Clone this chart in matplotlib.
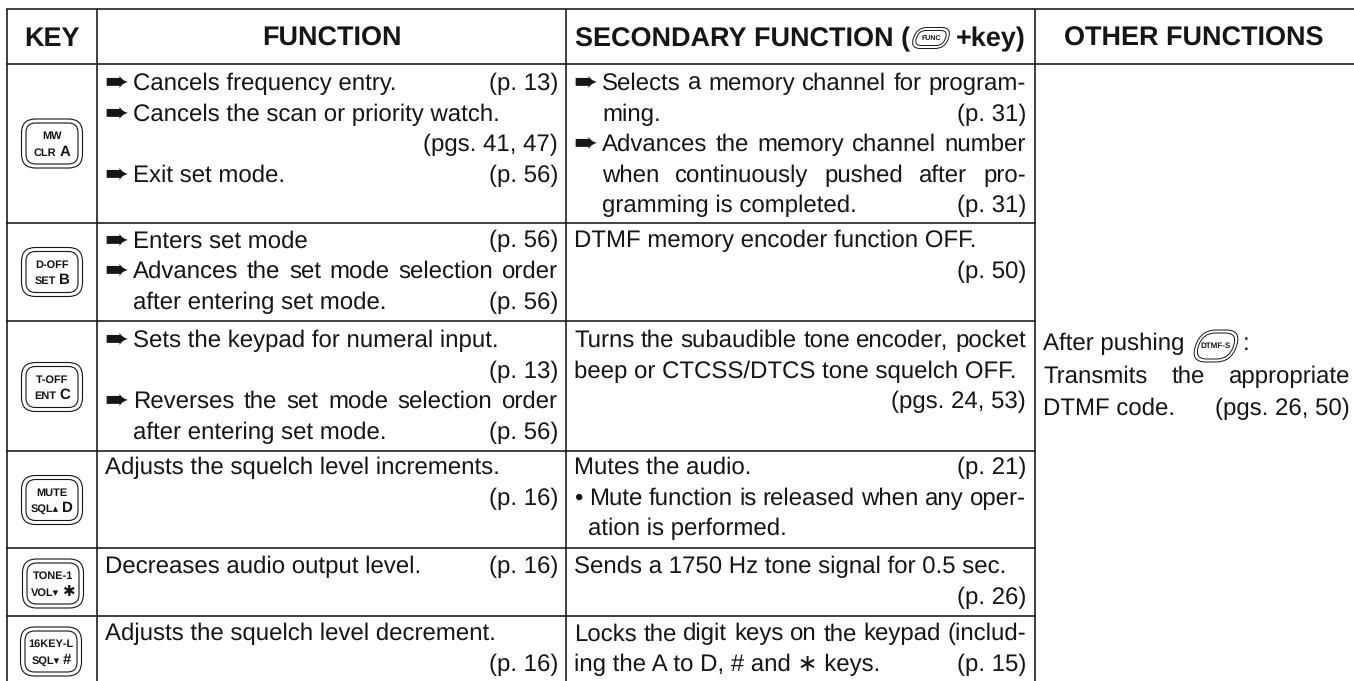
import matplotlib
matplotlib.use("Agg")
import matplotlib.pyplot as plt
from matplotlib.patches import FancyBboxPatch
from matplotlib.transforms import Affine2D

W, H = 1354, 681
plt.rcParams['font.family'] = ['Liberation Sans', 'DejaVu Sans']
plt.rcParams['text.hinting'] = 'no_hinting'
plt.rcParams['text.hinting_factor'] = 1

# table text. "> " = arrow bullet, "  " = hanging indent, "~" = short indent,
# "=" = justified line, "|" splits off the right aligned page reference
headers = ["KEY", "FUNCTION", "SECONDARY FUNCTION (", "OTHER FUNCTIONS"]
header_tail = "+key)"

key_top = ["MW", "D-OFF", "T-OFF", "MUTE", "TONE-1", "16KEY-L"]
key_bottom = ["CLR", "SET", "ENT", "SQL▴", "VOL▾", "SQL▾"]
key_letter = ["A", "B", "C", "D", "✱", "#"]

function_lines = [
    ["> Cancels frequency entry.|(p. 13)",
     "> Cancels the scan or priority watch.",
     "|(pgs. 41, 47)",
     "> Exit set mode.|(p. 56)"],
    ["> Enters set mode|(p. 56)",
     "=> Advances the set mode selection order",
     "  after entering set mode.|(p. 56)"],
    ["> Sets the keypad for numeral input.",
     "|(p. 13)",
     "=> Reverses the set mode selection order",
     "  after entering set mode.|(p. 56)"],
    ["Adjusts the squelch level increments.",
     "|(p. 16)"],
    ["Decreases audio output level.|(p. 16)"],
    ["Adjusts the squelch level decrement.",
     "|(p. 16)"],
]

secondary_lines = [
    ["=> Selects a memory channel for program-",
     "  ming.|(p. 31)",
     "=> Advances the memory channel number",
     "=  when continuously pushed after pro-",
     "  gramming is completed.|(p. 31)"],
    ["DTMF memory encoder function OFF.",
     "|(p. 50)"],
    ["=Turns the subaudible tone encoder, pocket",
     "beep or CTCSS/DTCS tone squelch OFF.",
     "|(pgs. 24, 53)"],
    ["Mutes the audio.|(p. 21)",
     "=• Mute function is released when any oper-",
     "~ation is performed."],
    ["Sends a 1750 Hz tone signal for 0.5 sec.",
     "|(p. 26)"],
    ["=Locks the digit keys on the keypad (includ-",
     "ing the A to D, # and ∗ keys.|(p. 15)"],
]

other_prefix = "After pushing"
other_icon = "DTMF-S"
other_lines = ["=Transmits the appropriate", "DTMF code.|(pgs. 26, 50)"]
func_icon = "FUNC"

# layout, in pixels of the reference
col_x = [7, 97, 566, 1034.5, 1354]
row_y = [9, 64, 223, 321, 451, 548, 616, 681]
first_base = [90, 247.5, 347, 474, 573.5, 640.5]
key_cx = [52, 52, 52, 52, 53, 51]
key_cy = [143.5, 272, 387, 500, 583.5, 651.5]
pitch = 30.6
body_fs = 17.3
head_fs = 19.2
ink = "#161616"

fig = plt.figure(figsize=(W / 100, H / 100), dpi=100)
ax = fig.add_axes([0, 0, 1, 1])
ax.set_xlim(0, W)
ax.set_ylim(H, 0)
ax.axis("off")

for x in col_x[:-1]:
    ax.plot([x, x], [row_y[0], H], color=ink, lw=1.15, solid_capstyle="butt")
for y in row_y[:2]:
    ax.plot([col_x[0], W], [y, y], color=ink, lw=1.15)
for y in row_y[2:-1]:
    ax.plot([col_x[0], col_x[3]], [y, y], color=ink, lw=1.15)

fig.canvas.draw()
rend = fig.canvas.get_renderer()


def text_w(s, fs=body_fs, **kw):
    t = ax.text(0, 0, s, fontsize=fs, **kw)
    w = t.get_window_extent(rend).width
    t.remove()
    return w


def put(x, y, s, ha="left"):
    ax.text(x, y, s, fontsize=body_fs, color=ink, ha=ha, va="baseline")


def put_words(x0, x1, y, s):
    words = s.split()
    total = sum(text_w(w) for w in words)
    gap = (x1 - x0 - total) / max(len(words) - 1, 1)
    x = x0
    for w in words:
        put(x, y, w)
        x += text_w(w) + gap


def put_line(x0, x1, y, line):
    justified = line.startswith("=")
    if justified:
        line = line[1:]
    body, _, page = line.partition("|")
    tx = x0
    if body.startswith("> "):
        ax.text(x0 - 1, y + 1, "➨", fontsize=21, color=ink, family="DejaVu Sans", va="baseline")
        body = body[2:]
        tx = x0 + 28
    elif body.startswith("• "):
        put(x0, y, "•")
        body = body[2:]
        tx = x0 + 15
    elif body.startswith("~"):
        body = body[1:]
        tx = x0 + 14
    elif body.startswith("  "):
        body = body.strip()
        tx = x0 + 28
    if page:
        put(x1, y, page, ha="right")
    if justified:
        put_words(tx, x1, y, body)
    elif body:
        put(tx, y, body)


def put_key(cx, cy, top, bottom, letter):
    for w, h, r in [(61, 49, 14), (52, 41, 9.5)]:
        ax.add_patch(FancyBboxPatch((cx - w / 2 + r, cy - h / 2 + r), w - 2 * r, h - 2 * r,
                                    boxstyle="round,pad=%g,rounding_size=%g" % (r, r),
                                    fc="white", ec=ink, lw=0.8))
    ax.text(cx, cy - 7, top, fontsize=8.1, fontweight="bold", color=ink, ha="center", va="center")
    wb = text_w(bottom, 8, fontweight="bold")
    wl = text_w(letter, 11, fontweight="bold")
    left = cx - (wb + wl + 3) / 2
    ax.text(left, cy + 12, bottom, fontsize=8, fontweight="bold", color=ink, va="baseline")
    ax.text(left + wb + 3, cy + 12, letter, fontsize=11, fontweight="bold", color=ink, va="baseline")


def put_icon(cx, cy, label, w, h, fs):
    # slanted double outline key, as in running text
    skew = Affine2D().translate(-cx, -cy).skew_deg(-18, 0).translate(cx, cy) + ax.transData
    for dw, dh in [(0, 0), (6, 6)]:
        ww, hh = w - dw, h - dh
        r = hh / 2 - 0.5
        ax.add_patch(FancyBboxPatch((cx - ww / 2 + r, cy - hh / 2 + r), ww - 2 * r, hh - 2 * r,
                                    boxstyle="round,pad=%g,rounding_size=%g" % (r, r),
                                    fc="white", ec=ink, lw=0.7, transform=skew))
    ax.text(cx, cy, label, fontsize=fs, fontweight="bold", color=ink, ha="center", va="center")


# header
for i in [0, 1, 3]:
    ax.text((col_x[i] + col_x[i + 1]) / 2, 46, headers[i], fontsize=head_fs, fontweight="bold",
            color=ink, ha="center", va="baseline")
ax.text(575, 46, headers[2], fontsize=head_fs, fontweight="bold", color=ink, va="baseline")
ax.text(1026, 46, header_tail, fontsize=head_fs, fontweight="bold", color=ink, ha="right", va="baseline")
put_icon(931, 38, func_icon, 35, 21, 5.2)

# body rows
for i in range(len(key_top)):
    put_key(key_cx[i], key_cy[i], key_top[i], key_bottom[i], key_letter[i])
    for j, line in enumerate(function_lines[i]):
        put_line(105, 558, first_base[i] + j * pitch, line)
    for j, line in enumerate(secondary_lines[i]):
        put_line(574, 1026, first_base[i] + j * pitch, line)

# last column
put(1043, 350, other_prefix)
put_icon(1216, 346, other_icon, 41, 32, 5.6)
put(1243, 350, ":")
for j, line in enumerate(other_lines):
    put_line(1043, 1350, 383 + j * 32, line)

fig.savefig("out.png", dpi=100)
